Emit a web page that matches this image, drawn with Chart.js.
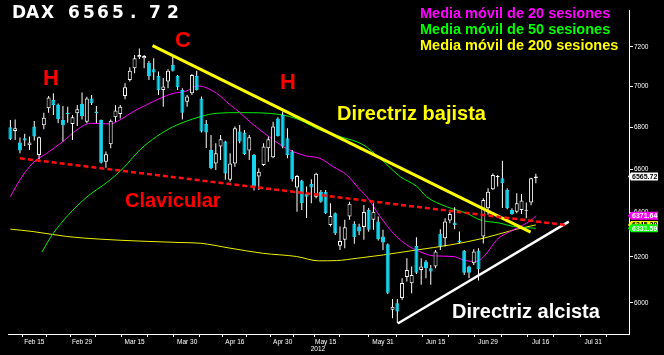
<!DOCTYPE html>
<html>
<head>
<meta charset="utf-8">
<script src="https://cdn.jsdelivr.net/npm/chart.js@4.4.1/dist/chart.umd.min.js"></script>
<style>
  html, body { margin: 0; padding: 0; background: #000; }
  #wrap { width: 664px; height: 355px; position: relative; }
</style>
</head>
<body>
<div id="wrap"><canvas id="chart"></canvas></div>
<script>
// daily candles, index 0 = Feb 8 2012 (trading days)
const openV = [6800, 6782, 6726, 6747, 6713, 6803, 6667, 6810, 6892, 6933,
  6911, 6835, 6871, 6816, 6868, 6913, 6827, 6941, 6876, 6835,
  6635, 6718, 6848, 6864, 6953, 7033, 7092, 7148, 7142, 7120,
  7087, 7053, 6983, 7025, 7108, 7053, 6983, 6925, 6966, 7053,
  6941, 6816, 6691, 6627, 6707, 6731, 6550, 6627, 6779, 6774,
  6688, 6667, 6565, 6620, 6699, 6656, 6843, 6860, 6747, 6683,
  6514, 6547, 6487, 6531, 6472, 6495, 6495, 6343, 6396, 6250,
  6276, 6381, 6348, 6336, 6334, 6411, 6366, 6358, 6291, 6256,
  5971, 5999, 6021, 6112, 6085, 6249, 6143, 6180, 6150, 6158,
  6303, 6283, 6363, 6354, 6273, 6227, 6158, 6172, 6228, 6291,
  6419, 6506, 6562, 6557, 6503, 6411, 6403, 6411, 6407, 6445,
  6557];
const highV = [6835, 6838, 6750, 6768, 6755, 6830, 6755, 6871, 6953, 6966,
  6916, 6904, 6900, 6860, 6909, 6970, 6949, 6958, 6904, 6838,
  6683, 6838, 6907, 6909, 7016, 7097, 7159, 7192, 7159, 7129,
  7142, 7075, 7042, 7087, 7150, 7058, 6991, 6958, 7063, 7079,
  6950, 6835, 6763, 6723, 6763, 6735, 6675, 6803, 6811, 6787,
  6763, 6672, 6604, 6723, 6755, 6827, 6848, 6876, 6795, 6691,
  6573, 6550, 6519, 6553, 6583, 6503, 6503, 6442, 6399, 6336,
  6366, 6449, 6360, 6348, 6434, 6420, 6442, 6381, 6321, 6260,
  6017, 6017, 6107, 6194, 6158, 6288, 6194, 6187, 6165, 6231,
  6324, 6373, 6406, 6423, 6313, 6231, 6161, 6234, 6238, 6465,
  6511, 6580, 6573, 6640, 6511, 6419, 6488, 6484, 6445, 6560,
  6578];
const lowV = [6739, 6739, 6675, 6710, 6691, 6736, 6646, 6790, 6871, 6860,
  6819, 6731, 6822, 6739, 6806, 6838, 6819, 6909, 6819, 6627,
  6607, 6699, 6827, 6843, 6937, 7025, 7066, 7138, 7092, 7033,
  7033, 6958, 6900, 6991, 7075, 6983, 6838, 6900, 6958, 6980,
  6774, 6700, 6599, 6596, 6643, 6550, 6542, 6611, 6723, 6667,
  6643, 6500, 6503, 6615, 6635, 6651, 6755, 6699, 6651, 6542,
  6403, 6411, 6374, 6442, 6465, 6444, 6393, 6336, 6298, 6231,
  6238, 6366, 6258, 6298, 6276, 6312, 6321, 6273, 6231, 6039,
  5935, 5914, 6013, 6093, 6042, 6125, 6078, 6107, 6078, 6150,
  6231, 6246, 6351, 6324, 6260, 6121, 6107, 6165, 6097, 6260,
  6389, 6503, 6519, 6420, 6414, 6389, 6396, 6393, 6373, 6433,
  6534];
const closeV = [6742, 6795, 6688, 6736, 6726, 6755, 6752, 6846, 6946, 6909,
  6840, 6810, 6864, 6848, 6887, 6855, 6941, 6917, 6868, 6630,
  6670, 6832, 6881, 6900, 6996, 7079, 7142, 7159, 7154, 7053,
  7070, 6983, 7000, 7079, 7079, 6996, 6871, 6950, 7058, 6983,
  6779, 6774, 6604, 6675, 6742, 6580, 6627, 6795, 6731, 6672,
  6752, 6519, 6588, 6707, 6742, 6803, 6758, 6707, 6667, 6553,
  6568, 6442, 6472, 6514, 6578, 6449, 6396, 6384, 6306, 6271,
  6333, 6439, 6288, 6313, 6402, 6321, 6403, 6279, 6264, 6044,
  5984, 5964, 6086, 6143, 6121, 6131, 6158, 6150, 6136, 6224,
  6246, 6358, 6393, 6343, 6265, 6131, 6131, 6224, 6146, 6457,
  6495, 6573, 6568, 6534, 6419, 6393, 6442, 6454, 6411, 6557,
  6566];

// x axis: trading-day index of labelled ticks and the unlabelled ones between
const tickIdx = [5, 15, 26, 37, 47, 57, 66, 78, 89, 100, 111, 122];
const tickLbl = ['Feb 15', 'Feb 29', 'Mar 15', 'Mar 30', 'Apr 16', 'Apr 30',
  'May 15', 'May 31', 'Jun 15', 'Jun 29', 'Jul 16', 'Jul 31'];
const minorIdx = [0, 10, 20.5, 31.5, 42, 52, 61.5, 72, 83.5, 94.5, 105.5, 116.5, 127.5];
const priceTicks = [6000, 6200, 6400, 6600, 6800, 7000, 7200];

// moving averages
const ma20Idx = [0, 2, 4.7, 7.6, 11, 13.9, 16.7, 20.9, 22.9, 25.7, 28.5, 31.3, 34.1,
  36.6, 39.2, 43.2, 46, 47.4, 50.5, 54.3, 57.1, 59.2, 62, 64.8, 67.6, 70.4, 73.2,
  74.6, 77.4, 80.1, 83, 85.7, 88.5, 92.7, 94.8, 96.9, 98.3, 99.7, 101.8, 103.9,
  106.7, 109.5, 110];
const ma20Val = [6472, 6550, 6629, 6675, 6731, 6787, 6819, 6816, 6835, 6876, 6909,
  6941, 6966, 6975, 7003, 6966, 6909, 6884, 6819, 6752, 6707, 6683, 6662, 6651,
  6611, 6573, 6503, 6472, 6381, 6307, 6253, 6224, 6205, 6202, 6187, 6180, 6187,
  6216, 6276, 6306, 6336, 6373, 6385];
const ma50Idx = [6.6, 9, 15.3, 20.9, 23.6, 27.1, 30.6, 34.1, 36.6, 39.7, 43.2, 48.1,
  56.4, 60.6, 64.8, 69, 73.9, 77.4, 81.6, 85.1, 87.1, 91.3, 95.5, 98.3, 102.5,
  105.3, 110];
const ma50Val = [6222, 6306, 6457, 6550, 6604, 6691, 6755, 6803, 6827, 6851, 6868,
  6871, 6862, 6835, 6787, 6755, 6715, 6651, 6565, 6519, 6472, 6426, 6396, 6366,
  6351, 6336, 6328];
const ma200Idx = [0, 4.8, 11.8, 18.8, 35.5, 39.7, 46, 52.9, 59.9, 64.5, 68.3, 72.5,
  78.1, 85.1, 92, 99, 106, 110];
const ma200Val = [6324, 6313, 6291, 6279, 6264, 6261, 6239, 6216, 6202, 6183, 6184,
  6194, 6209, 6231, 6253, 6283, 6324, 6343];

// hand drawn trend lines (index, price)
const bajistaIdx = [29.75, 108.9], bajistaVal = [7207, 6311];
const claviIdx = [2, 116.45], claviVal = [6651, 6342];
const alcistaIdx = [81.1, 116.9], alcistaVal = [5913, 6358];

const tagText = ['6565.72', '6371.64', '6345.20', '6331.59'];

const CYAN = '#14d6f0';
const FONT = '"Liberation Sans", Arial, sans-serif';

function pts(xs, ys) {
  return xs.map((v, i) => ({ x: v, y: ys[i] }));
}
const isUp = i => closeV[i] >= openV[i];

const textPlugin = {
  id: 'texts',
  afterDraw(chart) {
    const c = chart.ctx;
    const y = chart.scales.y;
    c.save();

    // title, one glyph at a time
    c.fillStyle = '#fff';
    c.font = 'bold 17px "DejaVu Sans", sans-serif';
    c.textBaseline = 'alphabetic';
    const title = 'DAX 6565.72';
    const tx = [12, 26, 41, 55, 68, 83, 97, 112, 130, 149, 167];
    for (let i = 0; i < title.length; i++) c.fillText(title[i], tx[i], 18);

    // legend
    c.font = 'bold 14.5px ' + FONT;
    c.fillStyle = '#ff00ff'; c.fillText('Media móvil de 20 sesiones', 420, 18);
    c.fillStyle = '#00ff00'; c.fillText('Media móvil de 50 sesiones', 420, 34);
    c.fillStyle = '#ffff00'; c.fillText('Media móvil de 200 sesiones', 420, 50);

    // big annotations
    c.font = 'bold 22px ' + FONT;
    c.fillStyle = '#ff0000';
    c.fillText('H', 43, 85);
    c.fillText('C', 175, 47);
    c.fillText('H', 280, 89);
    c.font = 'bold 20px ' + FONT;
    c.fillText('Clavicular', 125, 207);
    c.fillStyle = '#ffff00';
    c.fillText('Directriz bajista', 337, 120);
    c.fillStyle = '#ffffff';
    c.fillText('Directriz alcista', 452, 318);

    // year under the axis
    c.font = '6.5px ' + FONT;
    c.fillText('2012', chart.scales.x.getPixelForValue(tickIdx[6]) - 15, 351);

    // value tags on the price axis
    function tag(py, fill, txt, text) {
      const x0 = 631, w = 27, h = 8;
      c.fillStyle = fill;
      c.beginPath();
      c.moveTo(x0 - 3, py);
      c.lineTo(x0, py - h / 2);
      c.lineTo(x0 + w, py - h / 2);
      c.lineTo(x0 + w, py + h / 2);
      c.lineTo(x0, py + h / 2);
      c.closePath();
      c.fill();
      c.fillStyle = txt;
      c.font = 'bold 7px ' + FONT;
      c.textBaseline = 'middle';
      c.fillText(text, x0 + 1, py + 0.5);
      c.textBaseline = 'alphabetic';
    }
    tag(y.getPixelForValue(closeV[closeV.length - 1]), '#ffffff', '#000', tagText[0]);
    tag(y.getPixelForValue(ma20Val[ma20Val.length - 1]), '#ff00ff', '#fff', tagText[1]);
    tag(y.getPixelForValue(ma200Val[ma200Val.length - 1]), '#ffff00', '#000', tagText[2]);
    tag(y.getPixelForValue(ma50Val[ma50Val.length - 1]), '#00ff00', '#fff', tagText[3]);
    c.restore();
  }
};

const lineDs = (data, color, width, order, extra) => Object.assign({
  type: 'line', data: data, borderColor: color, borderWidth: width,
  pointRadius: 0, fill: false, order: order
}, extra || {});

new Chart(document.getElementById('chart'), {
  type: 'bar',
  data: {
    datasets: [
      lineDs(pts(claviIdx, claviVal), '#ff1010', 2.5, 0, { borderDash: [5, 3] }),
      lineDs(pts(bajistaIdx, bajistaVal), '#ffff00', 3, 0),
      lineDs(pts(alcistaIdx, alcistaVal), '#ffffff', 2.5, 0),
      {
        data: openV.map((o, i) => ({ x: i, y: [o, closeV[i]] })),
        backgroundColor: ctx => isUp(ctx.dataIndex) ? '#000000' : CYAN,
        borderColor: ctx => isUp(ctx.dataIndex) ? '#ffffff' : CYAN,
        borderWidth: 1, borderSkipped: false, barThickness: 4,
        minBarLength: 1, grouped: false, inflateAmount: 0, order: 1
      },
      {
        data: lowV.map((l, i) => ({ x: i, y: [l, highV[i]] })),
        backgroundColor: '#ffffff', borderWidth: 0, barThickness: 1,
        grouped: false, inflateAmount: 0, order: 2
      },
      lineDs(pts(ma20Idx, ma20Val), '#ff00ff', 1, 3, { cubicInterpolationMode: 'monotone' }),
      lineDs(pts(ma50Idx, ma50Val), '#00ee00', 1, 3, { cubicInterpolationMode: 'monotone' }),
      lineDs(pts(ma200Idx, ma200Val), '#eeee00', 1, 3, { cubicInterpolationMode: 'monotone' })
    ]
  },
  options: {
    responsive: true,
    maintainAspectRatio: false,
    animation: false,
    layout: { padding: { left: 8, top: 10, right: 0, bottom: 0 } },
    plugins: { legend: { display: false }, tooltip: { enabled: false } },
    scales: {
      x: {
        type: 'linear', min: -0.5, max: 129.5, offset: false,
        afterBuildTicks: s => {
          s.ticks = tickIdx.concat(minorIdx).sort((a, b) => a - b).map(v => ({ value: v }));
        },
        afterFit: s => { s.height = 21; },
        grid: { drawOnChartArea: false, tickLength: 3, color: '#ffffff' },
        border: { color: '#ffffff', width: 1 },
        ticks: {
          color: '#ffffff', font: { size: 6.5, family: FONT }, padding: 1,
          maxRotation: 0, autoSkip: false,
          callback: v => { const k = tickIdx.indexOf(v); return k >= 0 ? tickLbl[k] : ''; }
        }
      },
      y: {
        type: 'logarithmic', position: 'right', min: 5869, max: 7392,
        afterBuildTicks: s => { s.ticks = priceTicks.map(v => ({ value: v })); },
        afterFit: s => { s.width = 35; },
        grid: { drawOnChartArea: false, tickLength: 4, color: '#ffffff' },
        border: { color: '#ffffff', width: 1 },
        ticks: {
          color: '#ffffff', font: { size: 6.5, family: FONT }, padding: 1,
          callback: v => String(v)
        }
      }
    }
  },
  plugins: [textPlugin]
});
</script>
</body>
</html>
